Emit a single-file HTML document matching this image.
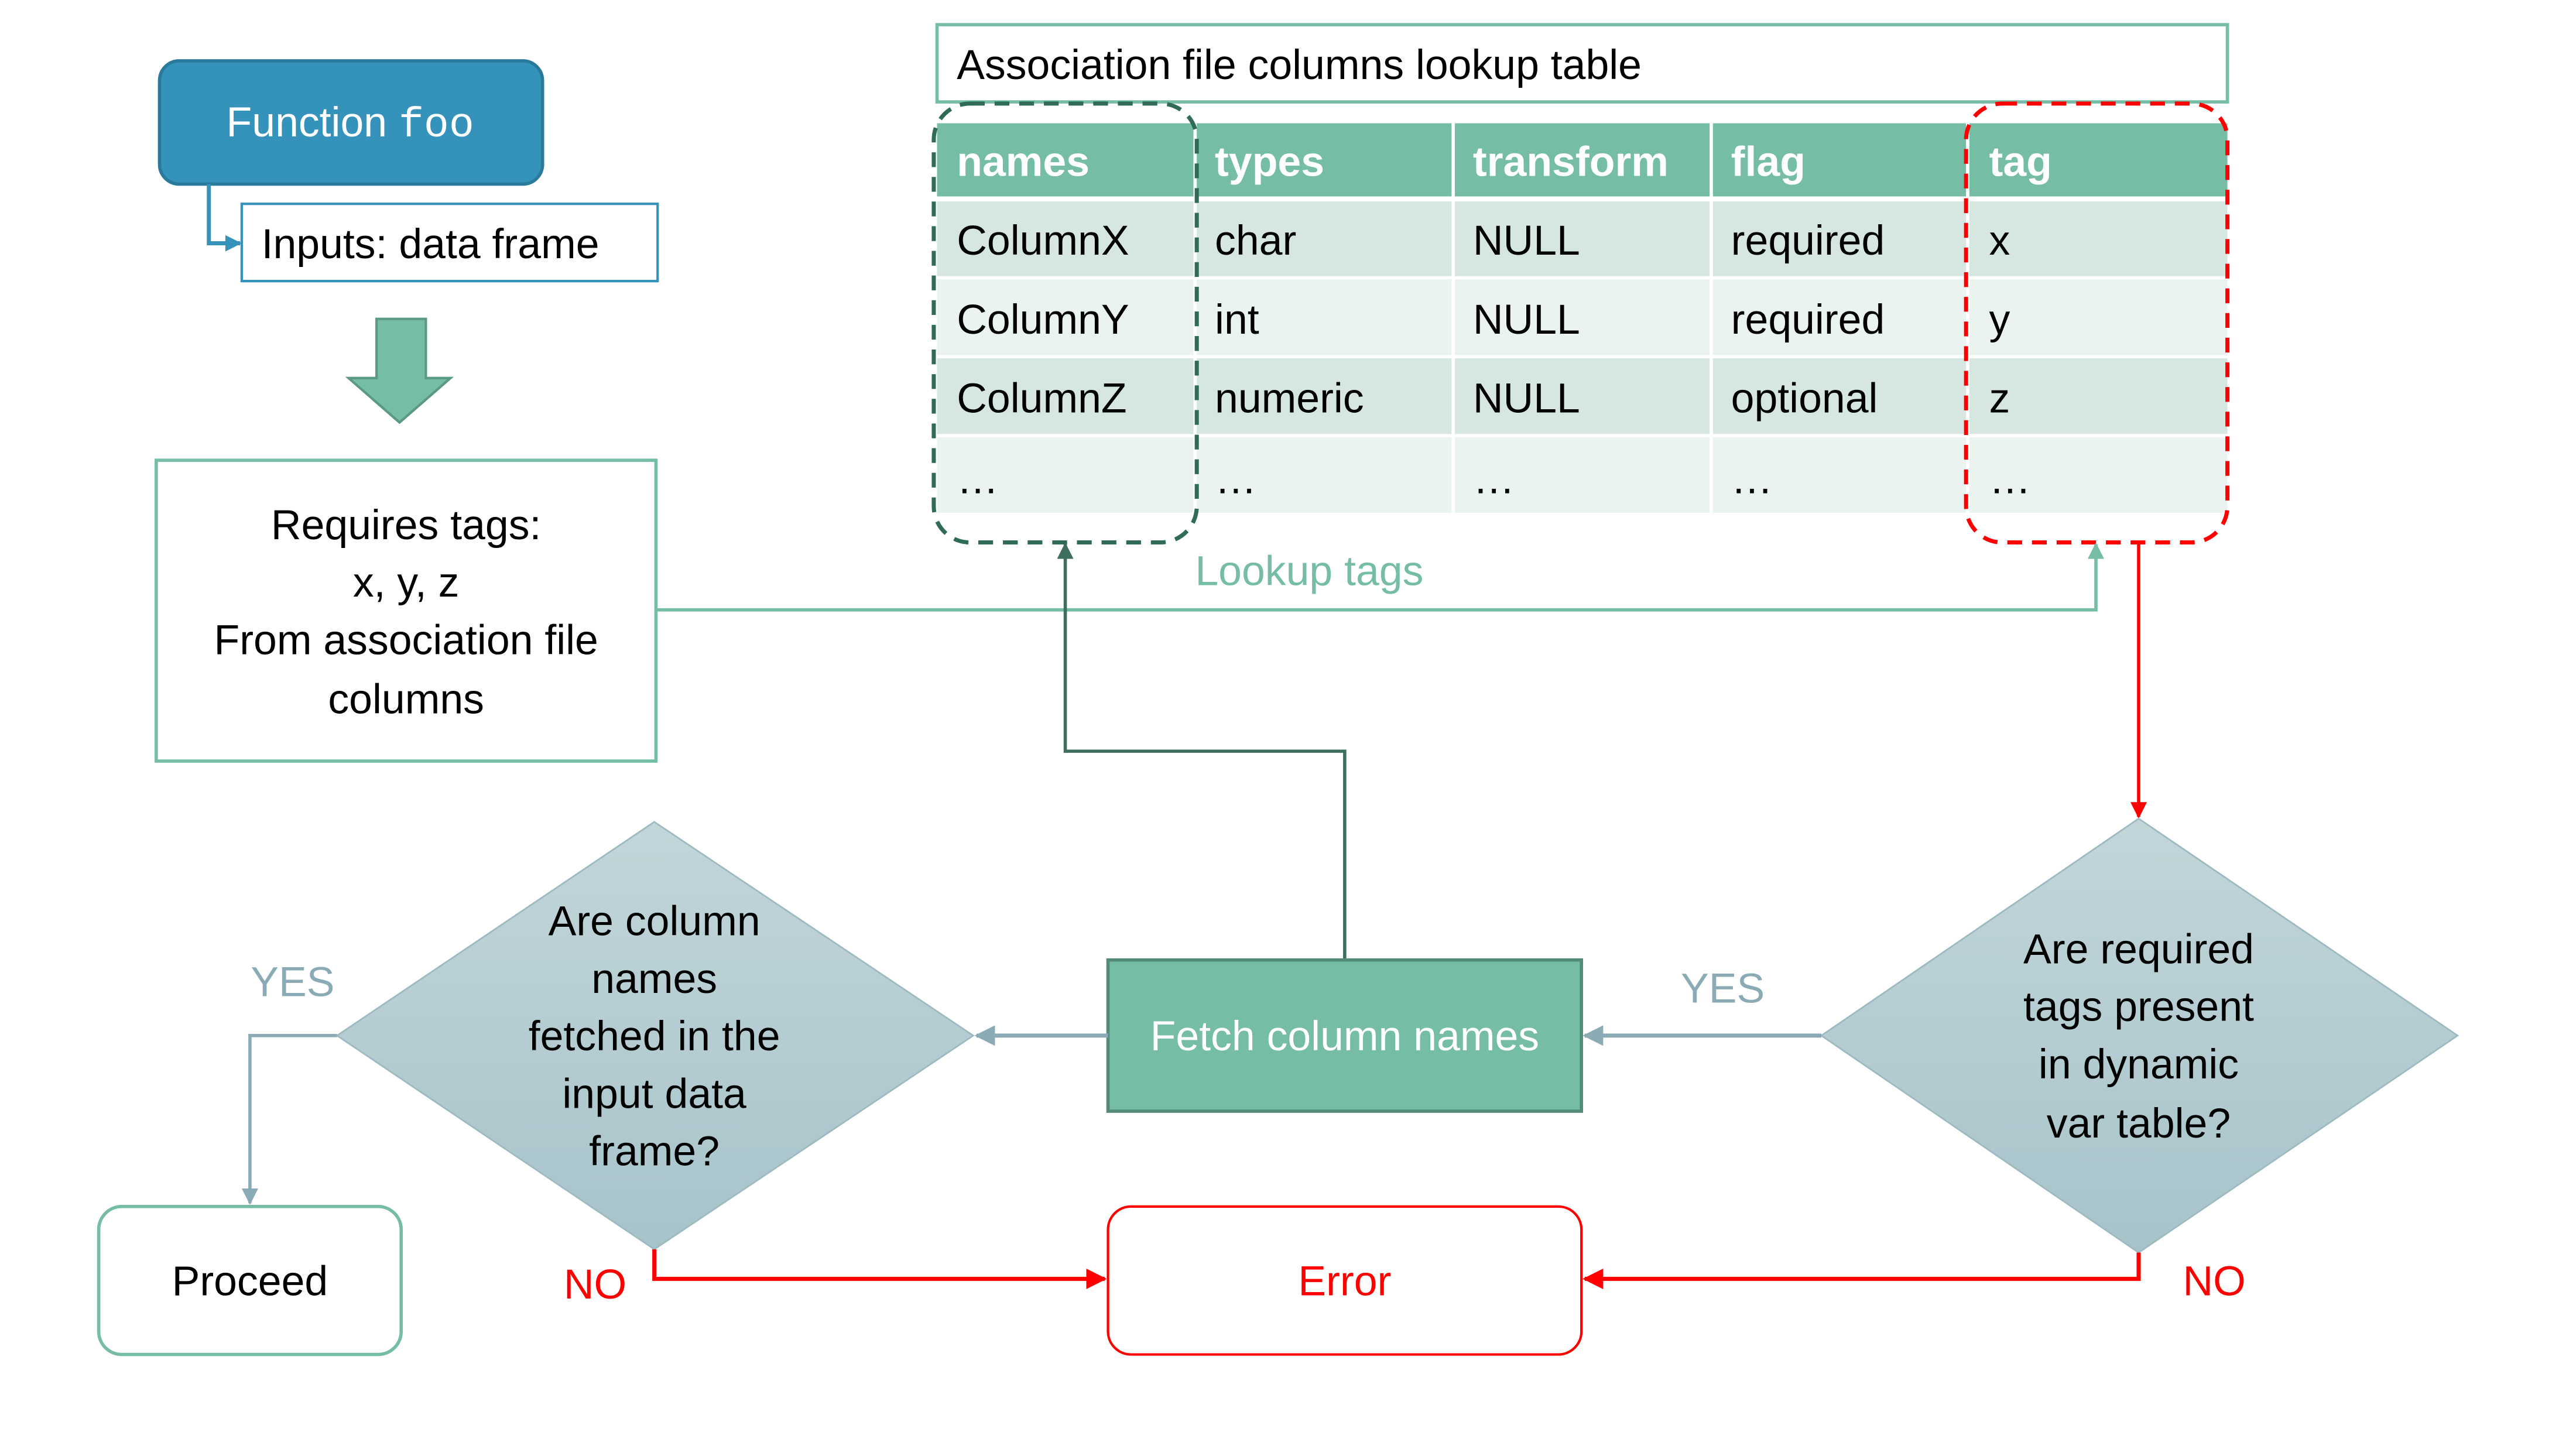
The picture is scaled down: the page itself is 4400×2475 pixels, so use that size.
<!DOCTYPE html>
<html><head><meta charset="utf-8"><style>
html,body{margin:0;padding:0;background:#fff}
svg{display:block}
text{font-family:"Liberation Sans",sans-serif;font-size:25.5px}
</style></head><body>
<svg width="4400" height="2475" viewBox="0 0 1567 881.5" xmlns="http://www.w3.org/2000/svg">
<defs>
<linearGradient id="dg" x1="0" y1="0" x2="0" y2="1"><stop offset="0" stop-color="#c2d6da"/><stop offset="1" stop-color="#a7c3ca"/></linearGradient>
<marker id="ab" viewBox="0 0 10 10" refX="9" refY="5" markerWidth="4" markerHeight="4" orient="auto"><path d="M0,0L10,5L0,10z" fill="#3593bb"/></marker>
<marker id="ag" viewBox="0 0 10 10" refX="9" refY="5" markerWidth="5" markerHeight="5" orient="auto"><path d="M0,0L10,5L0,10z" fill="#76bda6"/></marker>
<marker id="ad" viewBox="0 0 10 10" refX="9" refY="5" markerWidth="5" markerHeight="5" orient="auto"><path d="M0,0L10,5L0,10z" fill="#3d6e5e"/></marker>
<marker id="ar" viewBox="0 0 10 10" refX="9" refY="5" markerWidth="5" markerHeight="5" orient="auto"><path d="M0,0L10,5L0,10z" fill="#ff0000"/></marker>
<marker id="as" viewBox="0 0 10 10" refX="9" refY="5" markerWidth="5" markerHeight="5" orient="auto"><path d="M0,0L10,5L0,10z" fill="#8aabb5"/></marker>
</defs>

<rect x="97" y="37" width="233" height="75" rx="12" fill="#3593bb" stroke="#2a7a9e" stroke-width="2"/>
<text x="213" y="83" text-anchor="middle" fill="#fff">Function <tspan font-family="Liberation Mono,monospace">foo</tspan></text>
<path d="M127,112 V148 H146" fill="none" stroke="#3593bb" stroke-width="2.5" marker-end="url(#ab)"/>
<rect x="147" y="124" width="253" height="47" fill="#fff" stroke="#3593bb" stroke-width="1.5"/>
<text x="159" y="157" fill="#000">Inputs: data frame</text>

<path d="M229,194 H259 V230 H274 L243,257 L212,230 H229 Z" fill="#76bda6" stroke="#5a9a85" stroke-width="1.5"/>

<rect x="95" y="280" width="304" height="183" fill="#fff" stroke="#76bda6" stroke-width="2"/>
<text x="247" y="328" text-anchor="middle">Requires tags:</text>
<text x="247" y="363" text-anchor="middle">x, y, z</text>
<text x="247" y="398" text-anchor="middle">From association file</text>
<text x="247" y="434" text-anchor="middle">columns</text>

<rect x="570" y="15" width="785" height="47" fill="#fff" stroke="#76bda6" stroke-width="2"/>
<text x="582" y="48">Association file columns lookup table</text>

<rect x="570" y="75" width="785" height="46" fill="#76bda6"/>
<rect x="570" y="121" width="785" height="48" fill="#d6e7e1"/>
<rect x="570" y="169" width="785" height="48" fill="#eaf3f0"/>
<rect x="570" y="217" width="785" height="48" fill="#d6e7e1"/>
<rect x="570" y="265" width="785" height="47" fill="#eaf3f0"/>
<g stroke="#fff" stroke-width="2">
<line x1="570" y1="121" x2="1355" y2="121" stroke-width="3"/>
<line x1="570" y1="169" x2="1355" y2="169"/>
<line x1="570" y1="217" x2="1355" y2="217"/>
<line x1="570" y1="265" x2="1355" y2="265"/>
<line x1="727" y1="75" x2="727" y2="312"/>
<line x1="884" y1="75" x2="884" y2="312"/>
<line x1="1041" y1="75" x2="1041" y2="312"/>
<line x1="1197" y1="75" x2="1197" y2="312"/>
</g>
<g font-weight="bold" fill="#fff">
<text x="582" y="107">names</text><text x="739" y="107">types</text><text x="896" y="107">transform</text><text x="1053" y="107">flag</text><text x="1210" y="107">tag</text>
</g>
<g fill="#000">
<text x="582" y="155">ColumnX</text><text x="739" y="155">char</text><text x="896" y="155">NULL</text><text x="1053" y="155">required</text><text x="1210" y="155">x</text>
<text x="582" y="203">ColumnY</text><text x="739" y="203">int</text><text x="896" y="203">NULL</text><text x="1053" y="203">required</text><text x="1210" y="203">y</text>
<text x="582" y="251">ColumnZ</text><text x="739" y="251">numeric</text><text x="896" y="251">NULL</text><text x="1053" y="251">optional</text><text x="1210" y="251">z</text>
<text x="582" y="300">…</text><text x="739" y="300">…</text><text x="896" y="300">…</text><text x="1053" y="300">…</text><text x="1210" y="300">…</text>
</g>
<rect x="568" y="63" width="160" height="267" rx="22" fill="none" stroke="#2f6b58" stroke-width="2.5" stroke-dasharray="9,6"/>
<rect x="1196" y="63" width="159" height="267" rx="22" fill="none" stroke="#ff0000" stroke-width="2.5" stroke-dasharray="9,6"/>

<path d="M399,371 H1275 V331" fill="none" stroke="#76bda6" stroke-width="2" marker-end="url(#ag)"/>
<text x="727" y="356" fill="#76bda6">Lookup tags</text>

<path d="M818,584 V457 H648 V331" fill="none" stroke="#3d6e5e" stroke-width="2" marker-end="url(#ad)"/>
<path d="M1301,330 V497" fill="none" stroke="#ff0000" stroke-width="2" marker-end="url(#ar)"/>

<polygon points="1301,498 1495,630 1301,762 1108,630" fill="url(#dg)" stroke="#9dbac1" stroke-width="1"/>
<g text-anchor="middle">
<text x="1301" y="586">Are required</text><text x="1301" y="621">tags present</text><text x="1301" y="656">in dynamic</text><text x="1301" y="692">var table?</text>
</g>
<polygon points="398,500 592,630 398,760 205,630" fill="url(#dg)" stroke="#9dbac1" stroke-width="1"/>
<g text-anchor="middle">
<text x="398" y="569">Are column</text><text x="398" y="604">names</text><text x="398" y="639">fetched in the</text><text x="398" y="674">input data</text><text x="398" y="709">frame?</text>
</g>

<rect x="674" y="584" width="288" height="92" fill="#76bda6" stroke="#538a78" stroke-width="2"/>
<text x="818" y="639" text-anchor="middle" fill="#fff">Fetch column names</text>

<path d="M1108,630 H964" stroke="#8aabb5" stroke-width="2.5" fill="none" marker-end="url(#as)"/>
<text x="1048" y="610" text-anchor="middle" fill="#8aabb5">YES</text>
<path d="M674,630 H594" stroke="#8aabb5" stroke-width="2.5" fill="none" marker-end="url(#as)"/>
<path d="M205,630 H152 V732" stroke="#8aabb5" stroke-width="2" fill="none" marker-end="url(#as)"/>
<text x="178" y="606" text-anchor="middle" fill="#8aabb5">YES</text>

<rect x="60" y="734" width="184" height="90" rx="14" fill="#fff" stroke="#76bda6" stroke-width="2"/>
<text x="152" y="788" text-anchor="middle">Proceed</text>
<rect x="674" y="734" width="288" height="90" rx="14" fill="#fff" stroke="#ff0000" stroke-width="1.5"/>
<text x="818" y="788" text-anchor="middle" fill="#ff0000">Error</text>

<path d="M398,760 V778 H672" stroke="#ff0000" stroke-width="2.5" fill="none" marker-end="url(#ar)"/>
<text x="362" y="790" text-anchor="middle" fill="#ff0000">NO</text>
<path d="M1301,762 V778 H964" stroke="#ff0000" stroke-width="2.5" fill="none" marker-end="url(#ar)"/>
<text x="1347" y="788" text-anchor="middle" fill="#ff0000">NO</text>
</svg>
</body></html>
